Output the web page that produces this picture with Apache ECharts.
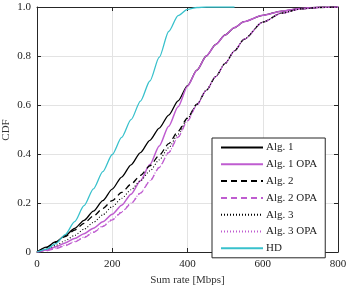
<!DOCTYPE html>
<html><head><meta charset="utf-8">
<script src="https://cdn.jsdelivr.net/npm/echarts@6/dist/echarts.min.js"></script>
<style>html,body{margin:0;padding:0;background:#fff}#c{width:346px;height:286px}</style>
</head><body><div id="c"></div>
<script>
const rates = [0,25,50,75,100,125,150,175,200,225,250,275,300,325,350,375,400,425,450,475,500,525,550,600,650,700,750,800];
const alg1    = [0,.02,.042,.067,.096,.129,.167,.21,.257,.306,.356,.406,.456,.506,.559,.617,.679,.742,.8,.847,.886,.916,.94,.966,.983,.994,.999,1];
const alg1Opa = [0,.008,.021,.037,.055,.075,.097,.123,.154,.191,.236,.291,.357,.433,.513,.593,.677,.742,.8,.847,.886,.916,.94,.966,.983,.994,.999,1];
const alg2    = [0,.018,.039,.063,.089,.117,.147,.178,.21,.243,.277,.313,.352,.395,.442,.493,.547,.603,.66,.716,.77,.821,.868,.938,.975,.992,.998,1];
const alg2Opa = [0,.005,.014,.026,.041,.059,.08,.104,.131,.162,.198,.24,.289,.345,.406,.469,.535,.6,.66,.716,.77,.821,.868,.938,.975,.992,.998,1];
const alg3    = [0,.011,.027,.046,.068,.093,.121,.152,.185,.219,.254,.291,.331,.376,.426,.481,.545,.603,.66,.716,.77,.821,.868,.938,.975,.992,.998,1];
const alg3Opa = [0,.006,.016,.028,.043,.061,.082,.106,.133,.164,.2,.242,.291,.347,.407,.47,.536,.6,.66,.716,.77,.821,.868,.938,.975,.992,.998,1];
const hd      = [0,.012,.034,.071,.124,.189,.258,.328,.398,.468,.54,.616,.698,.795,.9,.965,.99,.998,1,1,1,1,null,null,null,null,null,null];
const xTicks = [0,200,400,600,800];
const yTicks = [0,0.2,0.4,0.6,0.8,1.0];

const BLACK = '#000000', PURPLE = '#bf5cd0', CYAN = '#38c1cc';
const FONT = 'Liberation Serif';
function pts(arr){ return rates.map((r,i)=>arr[i]===null?null:[r,arr[i]]).filter(p=>p); }
function ser(name, arr, color, type, width){
  return {name, type:'line', data:pts(arr), symbol:'none', smooth:0.25, smoothMonotone:'x',
    lineStyle:{color, width, type}, itemStyle:{color}, xAxisIndex:0, yAxisIndex:0, animation:false};
}
const chart = echarts.init(document.getElementById('c'), null, {renderer:'canvas'});
const axisCommon = {
  axisLine:{show:true, onZero:false, lineStyle:{color:'#262626', width:1}},
  axisTick:{show:true, inside:true, length:4, lineStyle:{color:'#262626'}},
};
chart.setOption({
  animation:false,
  backgroundColor:'#fff',
  grid:{left:37, right:8, top:7, bottom:34, containLabel:false, outerBoundsMode:'none'},
  graphic:[{type:'text', x:6, y:130, rotation:Math.PI/2,
    style:{text:'CDF', fontFamily:FONT, fontSize:11, fill:'#333', align:'center', verticalAlign:'middle'}}],
  xAxis:[
    Object.assign({type:'value', min:xTicks[0], max:xTicks[xTicks.length-1], interval:200, position:'bottom',
      name:'Sum rate [Mbps]', nameLocation:'middle', nameGap:21,
      nameTextStyle:{fontFamily:FONT, fontSize:11, color:'#333'},
      axisLabel:{fontFamily:FONT, fontSize:11, color:'#222', margin:7},
      splitLine:{show:true, lineStyle:{color:'#e3e3e3', width:1}}}, axisCommon),
    Object.assign({type:'value', min:0, max:800, interval:200, position:'top',
      axisLabel:{show:false}, splitLine:{show:false}}, axisCommon)
  ],
  yAxis:[
    Object.assign({type:'value', min:yTicks[0], max:yTicks[yTicks.length-1], interval:0.2, position:'left',
      axisLabel:{fontFamily:FONT, fontSize:11, color:'#222', margin:6,
        formatter:v=> v===0?'0':v.toFixed(1)},
      splitLine:{show:true, lineStyle:{color:'#e3e3e3', width:1}}}, axisCommon),
    Object.assign({type:'value', min:0, max:1, interval:0.2, position:'right',
      axisLabel:{show:false}, splitLine:{show:false}}, axisCommon)
  ],
  legend:{
    show:true, left:212, top:138, orient:'vertical',
    itemWidth:42, itemHeight:8, itemGap:5.8,
    padding:[4,8,4,8],
    backgroundColor:'#fff', borderColor:'#262626', borderWidth:1, borderRadius:0,
    itemStyle:{opacity:0},
    textStyle:{fontFamily:FONT, fontSize:11, color:'#222', padding:[0,0,0,-2]},
    data:['Alg. 1','Alg. 1 OPA','Alg. 2','Alg. 2 OPA','Alg. 3','Alg. 3 OPA','HD']
  },
  series:[
    ser('Alg. 1', alg1, BLACK, 'solid', 1.3),
    ser('Alg. 1 OPA', alg1Opa, PURPLE, 'solid', 1.5),
    ser('Alg. 2', alg2, BLACK, [6,4], 1.3),
    ser('Alg. 2 OPA', alg2Opa, PURPLE, [6,4], 1.3),
    ser('Alg. 3', alg3, BLACK, [1,2], 1.1),
    ser('Alg. 3 OPA', alg3Opa, PURPLE, [1,2], 1.1),
    ser('HD', hd, CYAN, 'solid', 1.3)
  ]
});
</script></body></html>
